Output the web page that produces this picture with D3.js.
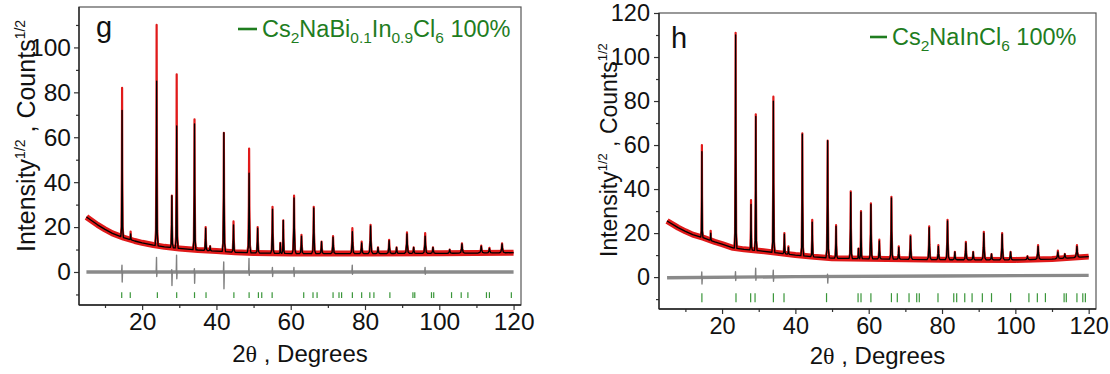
<!DOCTYPE html>
<html><head><meta charset="utf-8">
<script src="https://cdn.jsdelivr.net/npm/d3@7"></script>
<style>
body{margin:0;background:#fff;}
svg{display:block;font-family:"Liberation Sans",Arial,sans-serif;}
</style>
</head><body>
<svg id="c" width="1110" height="374"></svg>
<script>
// ---------- DATA ----------
// Panel g: Cs2NaBi0.1In0.9Cl6
const bgG = [[5,24.5],[8,21],[10,19],[12,17.2],[15,15.3],[18,13.8],[20,13],[23,12],[26,11.2],[30,10.5],[35,9.8],[40,9.3],[45,8.8],[50,8.5],[60,8.2],[80,8.2],[100,8.3],[120,8.6]];
// [2theta, observed top, calculated top, half base width]
const peaksG = [[14.6,82,72,0.35],[16.9,18,17,0.35],[23.9,110,85,0.4],[28.0,34,34,0.4],[29.3,88,65,0.4],[34.1,68,66,0.4],[37.1,20,19.5,0.45],[38.3,11.5,11.5,0.4],[42.0,62,62,0.45],[44.6,22.5,21,0.45],[48.8,55,44,0.5],[51.1,20,19.5,0.5],[55.1,29,28,0.5],[57.2,13,13,0.3],[58.0,23,23,0.4],[60.9,34,33,0.55],[62.9,16.5,16,0.55],[66.2,29,28.5,0.55],[68.3,13.5,13.5,0.55],[71.4,16,15.5,0.6],[76.6,19.5,18,0.6],[79.1,13.5,13,0.6],[81.5,21,20.5,0.65],[83.5,11,11,0.6],[86.5,14.3,14,0.65],[88.5,11,11,0.6],[91.3,17.6,17,0.7],[93.1,11,11,0.6],[96.2,17.3,16,0.7],[98.3,11,11,0.7],[102.8,10,10,0.7],[106.1,12.8,12.5,0.8],[111.3,11.7,11.5,0.8],[113.5,10.8,10.5,0.8],[116.9,12.8,12.5,0.8]];
const diffBaseG = [[5,0],[40,0],[80,0],[120,0]];
// [2theta, up, down]
const diffSpikesG = [[14.6,3,-4.5],[23.9,6.5,-2],[28.0,1,-6],[29.3,7.5,-3],[34.1,1.5,-5],[42.0,4.5,-7.5],[48.8,6,-1.5],[55.1,2,-2],[60.9,2,-2],[76.6,3,-1],[96.2,2,-1]];
const braggG = [14.5,16.8,24.1,29.3,34.1,37.2,44.7,48.8,51.3,52.2,55.0,63.5,66.0,67.1,71.4,73.0,73.7,76.6,79.1,81.3,82.4,86.7,92.9,93.4,97.9,98.5,103.3,105.9,107.7,112.7,113.5,119.4];

// Panel h: Cs2NaInCl6
const bgH = [[5,25.5],[8,22.5],[10,20.8],[12,19.3],[15,17.8],[18,16],[20,15],[23,13.3],[26,12.6],[30,12],[35,11],[40,10],[45,9.2],[50,8.6],[60,8.3],[80,7.9],[100,7.8],[110,8.2],[120,9.3]];
const peaksH = [[14.5,60,57,0.3],[16.9,21,20,0.3],[23.7,111,110,0.35],[27.9,35,33,0.35],[29.2,74,73,0.35],[34.0,82,80,0.4],[37.0,20,19.5,0.4],[38.1,14,13.5,0.35],[41.9,65.3,65,0.4],[44.6,26,25,0.4],[48.8,62,62,0.45],[51.1,23.6,23,0.45],[55.1,39,38.5,0.45],[57.2,13,13,0.3],[57.9,30,29.5,0.35],[60.6,33.5,33,0.5],[62.9,17,16.5,0.5],[66.2,36.5,36,0.5],[68.2,14,13.5,0.5],[71.4,19,18.5,0.55],[76.5,23,22.5,0.55],[79.0,14.5,14,0.55],[81.5,26,25.5,0.6],[83.5,11.5,11.5,0.55],[86.5,16,15.5,0.6],[88.5,11.5,11.5,0.55],[91.4,20.6,20,0.65],[93.5,10.5,10.5,0.6],[96.4,20,19.5,0.65],[98.7,11.5,11.5,0.65],[103.3,9.5,9.5,0.7],[106.2,14.5,14,0.75],[111.6,12,11.5,0.75],[113.5,10.5,10.5,0.7],[116.8,14.5,14,0.8]];
const diffBaseH = [[5,-0.3],[40,0.2],[80,0.5],[120,0.8]];
const diffSpikesH = [[14.5,2.5,-3],[23.7,2.5,-1.5],[29.2,4,-1.5],[34.0,3,-2],[48.8,1,-3]];
const braggH = [14.5,23.8,27.8,29.0,34.0,36.9,48.5,57.1,57.9,60.6,66.2,67.8,71.0,73.1,73.8,78.9,83.2,84.0,86.2,88.2,91.0,93.5,98.7,103.7,106.0,108.2,113.3,113.9,116.8,118.4,119.1];

const xMajor = [20,40,60,80,100,120];
const xMinor = [10,30,50,70,90,110];
const yMajorG = [0,20,40,60,80,100];
const yMajorH = [0,20,40,60,80,100,120];
const yMinor = [-10,10,30,50,70,90,110];

const legendG = [["Cs",""],["2","sub"],["NaBi",""],["0.1","sub"],["In",""],["0.9","sub"],["Cl",""],["6","sub"],[" 100%",""]];
const legendH = [["Cs",""],["2","sub"],["NaInCl",""],["6","sub"],[" 100%",""]];

// ---------- DRAWING ----------
const svg = d3.select("#c");
const GREEN = "#1f7d1f";

function bgScale(bg){ return d3.scaleLinear().domain(bg.map(d=>d[0])).range(bg.map(d=>d[1])); }
function profile(bg, peaks, idx) {
  const bgAt = bgScale(bg);
  const pts = bg.filter(d => !peaks.some(p => Math.abs(d[0]-p[0]) < p[3])).map(d=>[d[0],d[1]]);
  peaks.forEach(p => {
    const c=p[0], h=p[idx], w=p[3], b=bgAt(c);
    pts.push([c-w, bgAt(c-w)], [c-0.45*w, b+(h-b)*0.07], [c-0.15*w, b+(h-b)*0.45], [c, h],
             [c+0.15*w, b+(h-b)*0.45], [c+0.45*w, b+(h-b)*0.07], [c+w, bgAt(c+w)]);
  });
  return pts.sort((a,b)=>a[0]-b[0]);
}
function spikePaths(base, spikes) {
  const bAt = bgScale(base);
  return spikes.map(s => { const c=s[0], b=bAt(c); return [[c-0.12,b],[c-0.03,b+s[1]],[c+0.03,b+s[2]],[c+0.12,b]]; });
}

function panel(o) {
  const g = svg.append("g");
  const x = d3.scaleLinear().domain(o.xd).range([o.l, o.r]);
  const y = d3.scaleLinear().domain(o.yd).range([o.b, o.t]);
  const line = d3.line().x(d=>x(d[0])).y(d=>y(d[1]));

  // frame
  g.append("rect").attr("x",o.l).attr("y",o.t).attr("width",o.r-o.l).attr("height",o.b-o.t)
    .attr("fill","none").attr("stroke","#555").attr("stroke-width",1.2);

  // difference
  g.append("path").attr("d", line(o.diffBase))
    .attr("fill","none").attr("stroke","#8a8a8a").attr("stroke-width",3.4);
  spikePaths(o.diffBase, o.diffSpikes).forEach(s =>
    g.append("path").attr("d", line(s)).attr("fill","none").attr("stroke","#808080")
      .attr("stroke-width",1.4).attr("stroke-linejoin","round"));
  // observed: noisy band along background + thin trace through peaks
  g.append("path").attr("d", line(o.bg))
    .attr("fill","none").attr("stroke","#e01a1a").attr("stroke-width",6).attr("stroke-linejoin","round");
  g.append("path").attr("d", line(profile(o.bg, o.peaks, 1)))
    .attr("fill","none").attr("stroke","#e01a1a").attr("stroke-width",2.2).attr("stroke-linejoin","round");
  // calculated
  g.append("path").attr("d", line(profile(o.bg, o.peaks, 2)))
    .attr("fill","none").attr("stroke","#000").attr("stroke-width",1.3).attr("stroke-linejoin","round");
  // bragg
  g.selectAll(".br").data(o.bragg).enter().append("line")
    .attr("x1",d=>x(d)).attr("x2",d=>x(d)).attr("y1",y(o.brTop)).attr("y2",y(o.brBot))
    .attr("stroke","#3a963a").attr("stroke-width",1.2);

  // axes
  g.append("g").attr("transform",`translate(0,${o.b})`)
    .call(d3.axisBottom(x).tickValues(xMajor).tickSize(5).tickPadding(o.xpad).tickFormat(d3.format("d")));
  g.append("g").attr("transform",`translate(0,${o.b})`)
    .call(d3.axisBottom(x).tickValues(xMinor).tickSize(3).tickFormat(""));
  g.append("g").attr("transform",`translate(${o.l},0)`)
    .call(d3.axisLeft(y).tickValues(o.yMajor).tickSize(5).tickPadding(o.ypad).tickFormat(d3.format("d")));
  g.append("g").attr("transform",`translate(${o.l},0)`)
    .call(d3.axisLeft(y).tickValues(yMinor).tickSize(3).tickFormat(""));
  g.selectAll(".domain").remove();
  g.selectAll(".tick line").attr("stroke","#333").attr("stroke-width",1.2);
  g.selectAll(".tick text").attr("font-size",o.fs).attr("fill","#111")
    .attr("font-family","'Liberation Sans',Arial,sans-serif");
  g.append("line").attr("x1",o.l).attr("x2",o.l).attr("y1",o.t).attr("y2",o.b).attr("stroke","#222").attr("stroke-width",1.3);
  g.append("line").attr("x1",o.l).attr("x2",o.r).attr("y1",o.b).attr("y2",o.b).attr("stroke","#222").attr("stroke-width",1.3);

  // x title
  const xt = g.append("text").attr("x",(o.l+o.r)/2).attr("y",o.xtY).attr("text-anchor","middle")
    .attr("font-size",o.xtfs).attr("fill","#111");
  xt.append("tspan").text("2");
  xt.append("tspan").attr("font-family","'Liberation Serif',serif").text("θ");
  xt.append("tspan").text(" , Degrees");

  // y title
  const yt = g.append("text").attr("transform",`translate(${o.ytX},${o.ytY}) rotate(-90)`)
    .attr("font-size",o.ytfs).attr("fill","#111");
  yt.append("tspan").text("Intensity");
  yt.append("tspan").attr("font-size",o.supfs).attr("dy",-10).text("1/2");
  yt.append("tspan").attr("dy",10).text(" , Counts");
  yt.append("tspan").attr("font-size",o.supfs).attr("dy",-10).text("1/2");

  // panel letter
  g.append("text").attr("x",o.letX).attr("y",o.letY).attr("font-size",29).attr("fill","#111").text(o.letter);

  // legend
  g.append("line").attr("x1",o.legX1).attr("x2",o.legX2).attr("y1",o.legLY).attr("y2",o.legLY)
    .attr("stroke",GREEN).attr("stroke-width",2.6);
  const lt = g.append("text").attr("x",o.legTX).attr("y",o.legTY).attr("font-size",o.lfs).attr("fill",GREEN);
  let sub = false;
  o.legend.forEach(([t,k]) => {
    const s = lt.append("tspan").text(t);
    if (k==="sub") { s.attr("font-size",15.5).attr("dy", sub?0:6); sub=true; }
    else { s.attr("dy", sub?-6:0); sub=false; }
  });
}

panel({l:79,r:521,t:7,b:305,xd:[3,122],yd:[-14.7,118],yMajor:yMajorG,
  bg:bgG,peaks:peaksG,diffBase:diffBaseG,diffSpikes:diffSpikesG,bragg:braggG,brTop:-9,brBot:-11.6,
  fs:24.5,xtfs:24,xpad:3,ypad:3,xtY:362,ytX:35,ytY:252,ytfs:25,supfs:14,letter:"g",letX:96,letY:37,
  legX1:238,legX2:257,legLY:29,legTX:262,legTY:37,lfs:23.5,legend:legendG});
panel({l:659,r:1096,t:13,b:309,xd:[2.8,122],yd:[-14.5,120],yMajor:yMajorH,
  bg:bgH,peaks:peaksH,diffBase:diffBaseH,diffSpikes:diffSpikesH,bragg:braggH,brTop:-7.3,brBot:-11.4,
  fs:23.5,xtfs:24,xpad:3,ypad:4,xtY:364,ytX:617,ytY:257,ytfs:23,supfs:13,letter:"h",letX:671,letY:48,
  legX1:870,legX2:887,legLY:37,legTX:892,legTY:45,lfs:23.5,legend:legendH});
</script>
</body></html>
